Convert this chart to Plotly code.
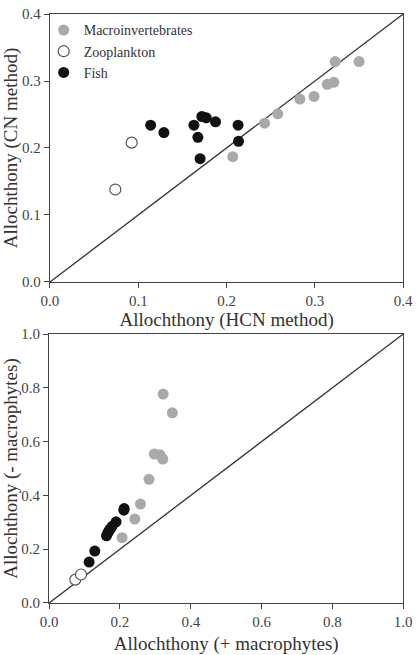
import plotly.graph_objects as go

# ---- data: top panel (HCN vs CN method) ----
macro_hcn = [0.350, 0.323, 0.3215, 0.314, 0.299, 0.283, 0.258, 0.243, 0.207]
macro_cn = [0.329, 0.329, 0.298, 0.295, 0.277, 0.273, 0.251, 0.237, 0.187]
zoo_hcn = [0.0925, 0.074]
zoo_cn = [0.208, 0.138]
fish_hcn = [0.114, 0.129, 0.163, 0.1675, 0.170, 0.172, 0.177, 0.1875, 0.213, 0.2135]
fish_cn = [0.234, 0.223, 0.234, 0.216, 0.184, 0.247, 0.245, 0.239, 0.234, 0.210]

# ---- data: bottom panel (+ macrophytes vs - macrophytes) ----
macro_plus = [0.348, 0.322, 0.321, 0.313, 0.297, 0.282, 0.258, 0.242, 0.206]
macro_minus = [0.707, 0.777, 0.535, 0.551, 0.554, 0.460, 0.368, 0.312, 0.243]
zoo_plus = [0.074, 0.090]
zoo_minus = [0.087, 0.106]
fish_plus = [0.113, 0.129, 0.162, 0.166, 0.169, 0.172, 0.178, 0.189, 0.211, 0.212]
fish_minus = [0.152, 0.193, 0.250, 0.262, 0.268, 0.275, 0.285, 0.302, 0.345, 0.351]

diag_top = [0.0, 0.4]
diag_bot = [0.0, 1.0]
ticks_top = [0.0, 0.1, 0.2, 0.3, 0.4]
ticks_bot = [0.0, 0.2, 0.4, 0.6, 0.8, 1.0]

GRAY = "#a9a9a9"
BLACK = "#111111"
EDGE = "#555555"
LINE = "#333333"
FONT = "Liberation Serif"
MS = 11

fig = go.Figure()

def add_panel(xa, ya, mx, my, zx, zy, fx, fy, diag, legend):
    fig.add_trace(go.Scatter(x=diag, y=diag, mode="lines", xaxis=xa, yaxis=ya,
                             line=dict(color=LINE, width=1.3), showlegend=False,
                             hoverinfo="skip"))
    fig.add_trace(go.Scatter(x=mx, y=my, mode="markers", name="Macroinvertebrates",
                             xaxis=xa, yaxis=ya, showlegend=legend,
                             marker=dict(size=MS, color=GRAY, line=dict(width=0))))
    fig.add_trace(go.Scatter(x=zx, y=zy, mode="markers", name="Zooplankton",
                             xaxis=xa, yaxis=ya, showlegend=legend,
                             marker=dict(size=MS, color="white", line=dict(width=1.2, color=EDGE))))
    fig.add_trace(go.Scatter(x=fx, y=fy, mode="markers", name="Fish",
                             xaxis=xa, yaxis=ya, showlegend=legend,
                             marker=dict(size=MS, color=BLACK, line=dict(width=0))))

add_panel("x", "y", macro_hcn, macro_cn, zoo_hcn, zoo_cn, fish_hcn, fish_cn, diag_top, True)
add_panel("x2", "y2", macro_plus, macro_minus, zoo_plus, zoo_minus, fish_plus, fish_minus, diag_bot, False)

axis_common = dict(showline=True, linecolor="#444444", linewidth=1.3, mirror=True,
                   ticks="outside", ticklen=5, tickwidth=1.2, tickcolor="#444444",
                   showgrid=False, zeroline=False, automargin=False,
                   tickfont=dict(family=FONT, size=15, color="#444444"),
                   tickformat=".1f")
title_font = dict(family=FONT, size=19, color="#333333")

fig.update_layout(
    width=420, height=655,
    margin=dict(l=0, r=0, t=0, b=0),
    paper_bgcolor="white", plot_bgcolor="white",
    font=dict(family=FONT, color="#333333"),
    xaxis=dict(domain=[0.119, 0.96], range=[0, 0.4], tickvals=ticks_top, anchor="y",
               title=dict(text="Allochthony (HCN method)", font=title_font, standoff=4),
               **axis_common),
    yaxis=dict(domain=[0.5695, 0.9786], range=[0, 0.4], tickvals=ticks_top, anchor="x",
               title=dict(text="Allochthony (CN method)", font=title_font, standoff=4),
               **axis_common),
    xaxis2=dict(domain=[0.117, 0.96], range=[0, 1.0], tickvals=ticks_bot, anchor="y2",
                title=dict(text="Allochthony (+ macrophytes)", font=title_font, standoff=10),
                **axis_common),
    yaxis2=dict(domain=[0.0794, 0.490], range=[0, 1.0], tickvals=ticks_bot, anchor="x2",
                title=dict(text="Allochthony (- macrophytes)", font=title_font, standoff=4),
                **axis_common),
    legend=dict(x=0.104, y=0.978, xanchor="left", yanchor="top",
                bgcolor="rgba(0,0,0,0)", font=dict(family=FONT, size=14, color="#333333"),
                itemwidth=30, tracegroupgap=0),
)

fig.write_html("out.html")
